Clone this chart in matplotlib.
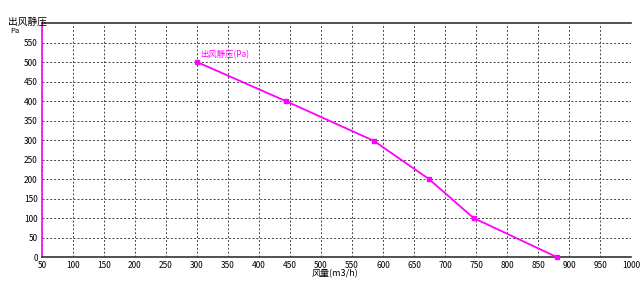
import matplotlib
matplotlib.use("Agg")
import matplotlib.pyplot as plt

plt.rcParams['font.family'] = ['Noto Sans CJK SC', 'DejaVu Sans']

# air flow (m3/h) vs static pressure (Pa)
flow = [300, 443, 585, 674, 746, 880]
pressure = [500, 400, 298, 200, 100, 0]
xticks = list(range(50, 1001, 50))
yticks = list(range(0, 551, 50))

fig = plt.figure(figsize=(6.4, 2.81), dpi=100)
ax = fig.add_axes([0.0656, 0.0854, 0.9204, 0.8326])

ax.plot(flow, pressure, color='#ff00ff', lw=1.3, marker='s', ms=2.2, clip_on=False, zorder=5)
ax.text(flow[0] + 5, pressure[0] + 12, '出风静压(Pa)', color='#ff00ff', fontsize=6)

ax.set_xlim(50, 1000)
ax.set_ylim(0, 600)
ax.set_xticks(xticks)
ax.set_yticks(yticks)
ax.tick_params(labelsize=6, length=0, pad=3)
ax.grid(True, color='#444444', ls=(0, (2, 2)), lw=0.7)

ax.spines['left'].set_color('#ff00ff')
ax.spines['left'].set_linewidth(1.2)
ax.spines['right'].set_visible(False)
ax.spines['top'].set_color('#333333')
ax.spines['bottom'].set_color('#333333')
ax.spines['top'].set_linewidth(1.2)
ax.spines['bottom'].set_linewidth(1.2)
ax.axvline(1000, color='#444444', ls=(0, (2, 2)), lw=0.7)

fig.text(0.012, 0.905, '出风静压', fontsize=7, va='bottom')
fig.text(0.016, 0.875, 'Pa', fontsize=5.5, va='bottom')
fig.text(0.523, 0.01, '风量(m3/h)', fontsize=6.5, ha='center', va='bottom')

fig.savefig('out.png', dpi=100)
